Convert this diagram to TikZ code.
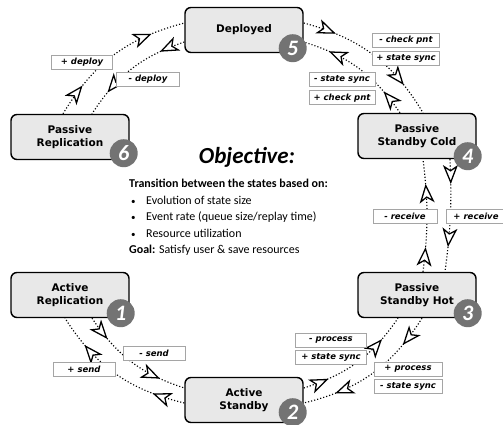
\documentclass[tikz,border=0pt]{standalone}
\usepackage{fontspec}
\setmainfont{Carlito}
\newfontfamily\verd{DejaVu Sans}
\usepackage{tikz}
\usetikzlibrary{positioning, arrows.meta, decorations.markings}
\definecolor{stateFillCol}{RGB}{232, 232, 232}
\definecolor{badgeCol}{RGB}{115, 115, 115}
\definecolor{labelLineCol}{RGB}{165, 165, 165}
\tikzset{myState/.style={draw=black, line width=0.5mm, rounded corners=6pt, fill=stateFillCol, minimum width=118pt, minimum height=45pt, align=center, font=\verd\bfseries\fontsize{10.5}{13}\selectfont}}
\tikzset{myBadge/.style={circle, fill=badgeCol, minimum size=28pt, inner sep=0pt, text=white, font=\bfseries\itshape\fontsize{22}{22}\selectfont}}
\tikzset{myLabel/.style={draw=labelLineCol, line width=0.3mm, fill=white, minimum height=14pt, inner sep=1pt, font=\verd\bfseries\itshape\fontsize{8.5}{9}\selectfont}}
\tikzset{myArc/.style={dotted, line width=0.4mm, postaction={decorate}, decoration={markings,
	mark=at position 0.22 with {\arrow{Stealth[length=19pt, width=15pt, inset=5pt, fill=white, line width=0.45mm]}},
	mark=at position 0.78 with {\arrow{Stealth[length=19pt, width=15pt, inset=5pt, fill=white, line width=0.45mm]}}}}}
\tikzset{myText/.style={align=left, inner sep=0pt, font=\fontsize{12}{16.5}\selectfont}}
\newcommand{\myBullet}{\hspace*{2pt}\makebox[15pt][l]{\small•}}

\begin{document}
\begin{tikzpicture}[x=1pt,y=1pt]
	\useasboundingbox (0,0) rectangle (503,425);
	%\draw[help lines, step=20pt](0,0) grid(503,425);
	\node[myState] (dep) at (244,395) {Deployed};
	\node[myState] (pr) at (70,288) {Passive\\Replication};
	\node[myState] (cold) at (417,289) {Passive\\Standby Cold};
	\node[myState] (hot) at (417,130) {Passive\\Standby Hot};
	\node[myState] (ar) at (70,130) {Active\\Replication};
	\node[myState] (as) at (244,25) {Active\\Standby};

	% outer arcs go one way, inner arcs the other
	\draw[myArc] ([xshift=-7pt]pr.north) to[bend left=22] ([yshift=7pt]dep.west);
	\draw[myArc] ([yshift=-12pt]dep.west) to[bend right=19] ([xshift=22pt]pr.north);
	\draw[myArc] ([yshift=7pt]dep.east) to[bend left=22] ([xshift=6pt]cold.north);
	\draw[myArc] ([xshift=-17pt]cold.north) to[bend right=19] ([yshift=-12pt]dep.east);
	\draw[myArc] ([xshift=33pt]cold.south) to[bend left=5] ([xshift=28pt]hot.north);
	\draw[myArc] ([xshift=6pt]hot.north) to[bend right=7] ([xshift=6pt]cold.south);
	\draw[myArc] ([xshift=5pt]hot.south) to[bend left=22] ([yshift=-3pt]as.east);
	\draw[myArc] ([yshift=12pt]as.east) to[bend right=19] ([xshift=-19pt]hot.south);
	\draw[myArc] ([yshift=-3pt]as.west) to[bend left=22] ([xshift=-5pt]ar.south);
	\draw[myArc] ([xshift=22pt]ar.south) to[bend right=19] ([yshift=12pt]as.west);

	\node[myBadge] (bAr) at ([xshift=-9pt,yshift=5pt]ar.south east) {1};
	\node[myBadge] (bAs) at ([xshift=-11pt,yshift=11pt]as.south east) {2};
	\node[myBadge] (bHot) at ([xshift=-9pt,yshift=5pt]hot.south east) {3};
	\node[myBadge] (bCold) at ([xshift=-9pt,yshift=3pt]cold.south east) {4};
	\node[myBadge] (bDep) at ([xshift=-11pt,yshift=5pt]dep.south east) {5};
	\node[myBadge] (bPr) at ([xshift=-6pt,yshift=7pt]pr.south east) {6};

	\node[myLabel, minimum width=61pt] (lDeployPlus) at (82,363) {+ deploy};
	\node[myLabel, minimum width=63pt] (lDeployMinus) at (148,346) {- deploy};
	\node[myLabel, minimum width=67pt] (lCheckMinus) at (406,385) {- check pnt};
	\node[myLabel, minimum width=67pt, below=4pt of lCheckMinus] (lSyncPlus) {+ state sync};
	\node[myLabel, minimum width=66pt] (lSyncMinus) at (342,346) {- state sync};
	\node[myLabel, minimum width=66pt, below=4pt of lSyncMinus] (lCheckPlus) {+ check pnt};
	\node[myLabel, minimum width=64pt] (lRecvMinus) at (405,209) {- receive};
	\node[myLabel, minimum width=60pt] (lRecvPlus) at (476,209) {+ receive};
	\node[myLabel, minimum width=71pt] (lProcMinus) at (331,85) {- process};
	\node[myLabel, minimum width=71pt, below=3pt of lProcMinus] (lSyncPlusB) {+ state sync};
	\node[myLabel, minimum width=68pt] (lProcPlus) at (408,56) {+ process};
	\node[myLabel, minimum width=68pt, below=3pt of lProcPlus] (lSyncMinusB) {- state sync};
	\node[myLabel, minimum width=62pt] (lSendMinus) at (154,72) {- send};
	\node[myLabel, minimum width=62pt] (lSendPlus) at (84,56) {+ send};

	\node[font=\bfseries\itshape\fontsize{23}{23}\selectfont] (objective) at (247,268) {Objective:};
	\node[myText, anchor=north west] (goalText) at (129,246) {\textbf{Transition between the states based on:}\\
		\myBullet Evolution of state size\\
		\myBullet Event rate (queue size/replay time)\\
		\myBullet Resource utilization\\
		\textbf{Goal:} Satisfy user \& save resources};
\end{tikzpicture}
\end{document}
